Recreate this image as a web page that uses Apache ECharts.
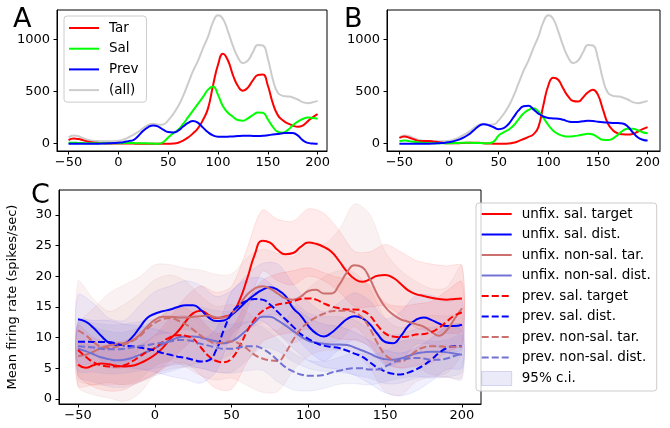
<!DOCTYPE html>
<html><head><meta charset="utf-8">
<script src="https://cdn.jsdelivr.net/npm/echarts@6/dist/echarts.min.js"></script>
<style>html,body{margin:0;padding:0;background:#fff}#c{width:670px;height:428px}</style>
</head><body><div id="c"></div>
<script>
// ---------- Panels A & B (counts) ----------
const timeAB = [-50,-45,-40,-35,-30,-25,-20,-15,-10,-5,0,5,10,15,20,25,30,35,40,45,50,55,60,65,70,75,80,85,90,95,100,105,110,115,120,125,130,135,140,145,150,155,160,165,170,175,180,185,190,195,200];
const aTar  = [35,50,45,32,20,12,8,5,3,2, 2,2,2,1,0,0,0,0,0,0, 0,2,10,30,60,100,150,230,340,560, 760,865,800,660,555,510,540,610,660,665, 560,390,275,225,195,175,163,175,215,255, 285];
const aSal  = [10,10,8,6,5,5,5,5,5,5, 5,6,7,6,5,4,3,1,0,15, 60,100,135,190,255,320,385,450,520,550, 470,360,298,260,228,221,244,276,301,298, 234,163,115,106,131,175,212,238,252,248, 240];
const aPrev = [0,0,0,0,0,0,0,2,4,7, 10,15,25,35,75,125,160,176,165,135, 112,108,125,165,200,218,200,155,110,80, 68,67,68,70,74,76,76,75,74,76, 82,88,94,100,104,102,80,35,8,2, 0];
const allCounts = [60,80,72,52,35,28,25,23,23,24, 28,40,60,85,115,150,180,192,182,185, 225,285,360,460,580,700,800,920,1030,1170, 1235,1200,1080,940,830,775,800,880,950,945, 820,620,490,460,455,445,425,400,390,398, 412];
const bTar  = [55,70,58,40,27,25,25,20,15,8, 5,4,5,8,10,10,10,5,2,0, 0,0,2,10,25,45,65,90,160,370, 560,635,615,530,455,410,405,445,495,520, 470,330,195,130,100,90,88,95,115,140, 160];
const bSal  = [25,30,25,18,12,8,6,5,5,5, 5,6,8,10,10,8,8,5,5,20, 80,110,135,175,235,290,325,340,310,250, 180,125,92,75,70,72,78,88,95,88, 60,38,35,50,85,125,145,145,130,110, 100];
const bPrev = [0,0,0,0,0,0,0,2,5,8, 15,25,40,60,90,130,170,187,178,158, 140,150,190,255,320,360,365,330,290,262, 248,243,240,230,215,208,210,215,220,218, 212,207,203,200,200,195,165,110,62,38, 30];
const countTicks = [0,500,1000];
const timeTicks = [-50,0,50,100,150,200];

// ---------- Panel C (firing rates) ----------
const timeC = timeAB;
const unfixSalTarget   = [5.6,5.1,5.5,5.8,5.65,5.4,5.3,5.4,5.8,6.4, 7.2,8.3,9.8,11.0,12.6,14.0,14.4,13.7,13.2,13.4, 13.9,16.0,19.5,23.5,25.8,25.5,24.3,23.6,23.8,24.8, 25.5,25.3,24.8,24.0,22.5,20.8,19.6,19.1,19.5,20.1, 20.2,19.8,18.8,17.7,17.1,16.8,16.5,16.3,16.2,16.3, 16.4];
const unfixSalDist     = [13.0,12.6,11.6,10.3,9.2,8.8,9.0,10.0,11.6,13.2, 13.9,14.3,14.6,15.0,15.3,15.3,14.5,13.3,12.7,12.8, 13.7,14.8,16.0,17.0,17.8,18.2,17.8,16.8,14.8,13.6, 11.9,10.7,10.2,10.8,11.9,13.0,13.5,13.2,12.2,10.6, 9.3,9.1,10.2,11.9,12.9,13.3,12.9,12.3,11.9,11.9, 12.1];
const unfixNonSalTar   = [7.0,7.2,7.7,8.3,8.7,9.0,9.1,9.5,10.4,11.8, 12.9,13.4,13.4,13.3,13.3,13.4,13.5,13.6,13.3,13.3, 13.9,15.3,17.0,18.0,18.4,18.0,17.2,16.4,16.2,16.7, 17.6,17.8,17.2,17.2,18.6,20.6,21.8,21.5,19.6,17.0, 15.0,13.8,13.0,12.6,12.2,11.8,11.0,10.3,11.2,13.0, 14.8];
const unfixNonSalDist  = [8.2,7.8,7.3,6.8,6.5,6.3,6.4,6.7,7.2,7.7, 8.3,8.9,9.5,10.0,10.2,10.2,10.0,9.7,9.4,9.1, 9.4,10.2,11.3,12.5,13.4,13.4,12.8,12.0,11.1,10.2, 9.5,9.2,9.0,8.9,8.9,8.8,8.4,7.9,7.4,6.8, 6.5,6.4,6.6,7.0,7.4,7.6,7.7,7.7,7.6,7.4, 7.2];
const prevSalTarget    = [8.0,6.9,6.0,5.5,5.3,5.3,5.5,6.1,6.9,7.7, 8.3,9.3,10.1,10.4,10.3,9.8,8.4,7.0,6.2,6.0, 6.6,8.5,11.0,13.0,14.3,15.0,15.4,15.6,15.9,16.3, 16.4,16.2,15.6,15.1,14.8,14.6,14.6,14.4,13.6,12.0, 10.7,10.2,10.1,10.2,10.5,10.6,10.9,11.6,12.6,13.6, 14.1];
const prevSalDist      = [9.35,9.35,9.3,9.3,9.3,9.0,8.7,8.6,8.4,8.2, 7.9,7.5,7.2,6.9,6.7,6.4,6.1,6.3,8.0,11.3, 14.0,15.3,16.0,16.3,16.2,15.4,14.2,13.0,11.8,10.6, 9.8,9.1,8.7,8.5,8.3,7.9,7.4,6.9,6.0,5.1, 4.5,4.1,4.0,4.3,4.8,5.5,6.4,7.5,8.3,8.6, 8.6];
const prevNonSalTar    = [11.2,10.4,9.3,8.5,8.3,8.5,8.9,9.4,10.2,11.4, 12.4,13.0,13.2,12.8,12.2,11.3,10.3,9.5,9.1,9.2, 9.4,9.0,8.2,7.2,6.6,6.3,6.2,7.5,9.6,11.4, 12.5,13.3,13.9,14.3,14.4,14.4,14.1,13.3,11.5,9.1, 7.2,6.4,6.1,6.8,7.8,8.4,8.6,8.6,8.5,8.5, 8.6];
const prevNonSalDist   = [8.6,8.5,8.4,8.2,8.1,8.1,8.2,8.4,8.6,8.8, 9.0,9.2,9.4,9.6,9.6,9.4,9.0,8.7,8.4,8.2, 8.2,8.4,8.6,8.6,8.2,7.4,6.3,5.2,4.5,4.0, 3.8,3.8,3.9,4.3,4.6,4.9,5.0,5.0,4.8,4.8, 5.3,5.9,6.4,6.6,6.7,6.6,6.4,6.4,6.6,7.0, 7.4];
// 95% c.i. half-widths, sampled every 10 ms
const timeBand = [-50,-40,-30,-20,-10,0,10,20,30,40,50,60,70,80,90,100,110,120,130,140,150,160,170,180,190,200];
const ciUnfixSalTarget  = [3.5,3.2,3,3,3,3.2,3.5,4,4,4.2,4.5,5,5,5,5.2,5.5,5.5,5,4.5,4.5,5,5.2,5.5,5.5,5.5,5.3];
const ciUnfixSalDist    = [4,4,4,3.8,3.6,3.6,3.8,4,4,4,4,4.2,4.3,4.2,4,4,4,3.8,3.8,3.8,3.8,4,4,4,4,4];
const ciUnfixNonSalTar  = [5,7,8.5,9.5,9.5,9,8.5,8,7.5,7,6.5,6,6,6.5,7,7.5,8,9,10,10.5,9,8,7,7,7,7];
const ciUnfixNonSalDist = [4.5,4.5,4.5,4.5,4.5,4.5,5,5,5,5,5,5,5,5,5,4.5,4.5,4.5,4.5,4,4,4,4,4,4,4];
const ciPrevSalTarget   = [4,4,4,4,4,4.2,4.5,4.5,4.5,4.5,5,5,5,5,5,5,5,5,5,5,5,5,5,5,5,5];
const ciPrevSalDist     = [3.5,3.5,3.5,3.5,3.5,3.5,3.5,3.5,3.5,3.5,3.5,3.5,3.5,3.5,3.5,3.5,3.5,3.5,3.5,3.5,3.5,3.5,3.5,3.5,3.5,3.5];
const ciPrevNonSalTar   = [8,7,6,6.5,7,7,7,7,6.5,6,6,6,5.5,5,5,5.5,6,6.5,6.5,6.5,6,5.5,5,5,5,5];
const ciPrevNonSalDist  = [4,4,4,4,4,4,4,4,4,4,4,4,3.5,3.5,3,2.5,2.2,2.2,2.5,2.5,2.5,3,3,3,3,3];
const rateTicks = [0,5,10,15,20,25,30];

// ---------- styling ----------
const FONT = 'DejaVu Sans';
const RED = '#ff0000', GREEN = '#00ff00', BLUE = '#0000ff', GREY = '#cccccc';
const ROSY = '#cc6f6f', SLATE = '#7272d4';
const DASH = [7, 3];

const pairs = (xs, ys) => xs.map((x, i) => [x, ys[i]]);
const minusFmt = v => String(v).replace('-', '\u2212');

function xAxisFor(gi, min, max) {
  return {
    type: 'value', gridIndex: gi, min: min, max: max,
    axisLine: { show: true, onZero: false, lineStyle: { color: '#000', width: 1 } },
    axisTick: { show: true, inside: false, length: 3.5, lineStyle: { color: '#000' }, customValues: timeTicks },
    axisLabel: { color: '#000', fontSize: 13, fontFamily: FONT, margin: 5, customValues: timeTicks, formatter: minusFmt },
    splitLine: { show: false }
  };
}
function yAxisFor(gi, min, max, ticks, extra) {
  return Object.assign({
    type: 'value', gridIndex: gi, min: min, max: max,
    axisLine: { show: true, onZero: false, lineStyle: { color: '#000', width: 1 } },
    axisTick: { show: true, inside: false, length: 3.5, lineStyle: { color: '#000' }, customValues: ticks },
    axisLabel: { color: '#000', fontSize: 13, fontFamily: FONT, margin: 7, customValues: ticks, formatter: minusFmt },
    splitLine: { show: false }
  }, extra || {});
}
function lineS(name, gi, xs, ys, color, dashed, z) {
  return {
    type: 'line', name: name, xAxisIndex: gi, yAxisIndex: gi,
    data: pairs(xs, ys), smooth: 0.5, symbol: 'none', showSymbol: false,
    lineStyle: { color: color, width: 2, type: dashed ? DASH : 'solid' },
    itemStyle: { color: color }, z: z || 3, silent: true, animation: false
  };
}
function bandS(line, hw, fill, edge) {
  const rows = timeBand.map((t, i) => [t, line[i * 2] - hw[i], line[i * 2] + hw[i]]);
  return {
    type: 'custom', name: '95% c.i.', xAxisIndex: 2, yAxisIndex: 2,
    data: rows, encode: { x: 0, y: [1, 2] }, z: 1, silent: true, animation: false,
    itemStyle: { color: fill },
    renderItem: function (params, api) {
      if (params.dataIndex !== 0) return null;
      const up = rows.map(r => api.coord([r[0], r[2]]));
      const dn = rows.map(r => api.coord([r[0], r[1]])).reverse();
      return { type: 'polygon', shape: { points: up.concat(dn), smooth: 0.3 },
               style: { fill: fill, stroke: edge, lineWidth: 0.8 } };
    }
  };
}

const series = [
  // A
  lineS('(all)', 0, timeAB, allCounts, GREY, false, 2),
  lineS('Tar', 0, timeAB, aTar, RED),
  lineS('Sal', 0, timeAB, aSal, GREEN),
  lineS('Prev', 0, timeAB, aPrev, BLUE),
  // B
  lineS('B (all)', 1, timeAB, allCounts, GREY, false, 2),
  lineS('B Tar', 1, timeAB, bTar, RED),
  lineS('B Sal', 1, timeAB, bSal, GREEN),
  lineS('B Prev', 1, timeAB, bPrev, BLUE),
  // C bands
  bandS(unfixSalTarget, ciUnfixSalTarget, 'rgba(255,0,0,0.08)', 'rgba(255,0,0,0.12)'),
  bandS(unfixSalDist, ciUnfixSalDist, 'rgba(0,0,255,0.06)', 'rgba(0,0,255,0.1)'),
  bandS(unfixNonSalTar, ciUnfixNonSalTar, 'rgba(204,111,111,0.09)', 'rgba(204,111,111,0.13)'),
  bandS(unfixNonSalDist, ciUnfixNonSalDist, 'rgba(114,114,212,0.09)', 'rgba(114,114,212,0.13)'),
  bandS(prevSalTarget, ciPrevSalTarget, 'rgba(255,0,0,0.08)', 'rgba(255,0,0,0.12)'),
  bandS(prevSalDist, ciPrevSalDist, 'rgba(0,0,255,0.06)', 'rgba(0,0,255,0.1)'),
  bandS(prevNonSalTar, ciPrevNonSalTar, 'rgba(204,111,111,0.09)', 'rgba(204,111,111,0.13)'),
  bandS(prevNonSalDist, ciPrevNonSalDist, 'rgba(114,114,212,0.09)', 'rgba(114,114,212,0.13)'),
  // C lines
  lineS('unfix. sal. target', 2, timeC, unfixSalTarget, RED, false),
  lineS('unfix. sal. dist.', 2, timeC, unfixSalDist, BLUE, false),
  lineS('unfix. non-sal. tar.', 2, timeC, unfixNonSalTar, ROSY, false),
  lineS('unfix. non-sal. dist.', 2, timeC, unfixNonSalDist, SLATE, false),
  lineS('prev. sal. target', 2, timeC, prevSalTarget, RED, true),
  lineS('prev. sal. dist.', 2, timeC, prevSalDist, BLUE, true),
  lineS('prev. non-sal. tar.', 2, timeC, prevNonSalTar, ROSY, true),
  lineS('prev. non-sal. dist.', 2, timeC, prevNonSalDist, SLATE, true)
];

const legendCommon = {
  orient: 'vertical', itemWidth: 30, itemHeight: 14,
  borderColor: '#cccccc', borderWidth: 1, borderRadius: 3,
  backgroundColor: 'rgba(255,255,255,0.8)',
  textStyle: { color: '#000', fontSize: 13.5, fontFamily: FONT, padding: [0, 0, 0, 5] },
  itemStyle: { opacity: 0 }, selectedMode: false, z: 10
};

const chart = echarts.init(document.getElementById('c'), null, { renderer: 'canvas' });
chart.setOption({
  animation: false,
  textStyle: { fontFamily: FONT },
  grid: [
    { left: 57, top: 10, width: 270, height: 141, show: true, borderColor: '#000', borderWidth: 1, backgroundColor: 'transparent', outerBoundsMode: 'none' },
    { left: 387, top: 10, width: 273, height: 141, show: true, borderColor: '#000', borderWidth: 1, backgroundColor: 'transparent', outerBoundsMode: 'none' },
    { left: 59, top: 190, width: 422, height: 214, show: true, borderColor: '#000', borderWidth: 1, backgroundColor: 'transparent', outerBoundsMode: 'none' }
  ],
  xAxis: [ xAxisFor(0, -61.6, 209.4), xAxisFor(1, -62.5, 212.5), xAxisFor(2, -62.4, 212.4) ],
  yAxis: [
    yAxisFor(0, -70, 1286, countTicks),
    yAxisFor(1, -70, 1286, countTicks),
    yAxisFor(2, -0.82, 34.08, rateTicks, {
      name: 'Mean firing rate (spikes/sec)', nameLocation: 'middle', nameGap: 40,
      nameTextStyle: { color: '#000', fontSize: 13, fontFamily: FONT }
    })
  ],
  legend: [
    Object.assign({}, legendCommon, {
      left: 64, top: 16, padding: [5, 8, 5, 4], itemGap: 6.7,
      data: ['Tar', 'Sal', 'Prev', '(all)']
    }),
    Object.assign({}, legendCommon, {
      left: 476, top: 203, padding: [4, 6, 5, 4.7], itemGap: 6.5,
      data: ['unfix. sal. target', 'unfix. sal. dist.', 'unfix. non-sal. tar.', 'unfix. non-sal. dist.',
             'prev. sal. target', 'prev. sal. dist.', 'prev. non-sal. tar.', 'prev. non-sal. dist.',
             { name: '95% c.i.', icon: 'rect', itemStyle: { color: 'rgba(114,114,212,0.15)', opacity: 1, borderColor: 'rgba(114,114,212,0.25)', borderWidth: 1 } }]
    })
  ],
  graphic: [
    { type: 'text', x: 13, y: 20, style: { text: 'A', font: '27px "DejaVu Sans"', fill: '#000', textVerticalAlign: 'middle' } },
    { type: 'text', x: 344, y: 20, style: { text: 'B', font: '27px "DejaVu Sans"', fill: '#000', textVerticalAlign: 'middle' } },
    { type: 'text', x: 31, y: 196, style: { text: 'C', font: '27px "DejaVu Sans"', fill: '#000', textVerticalAlign: 'middle' } }
  ],
  series: series
});
</script>
</body></html>
